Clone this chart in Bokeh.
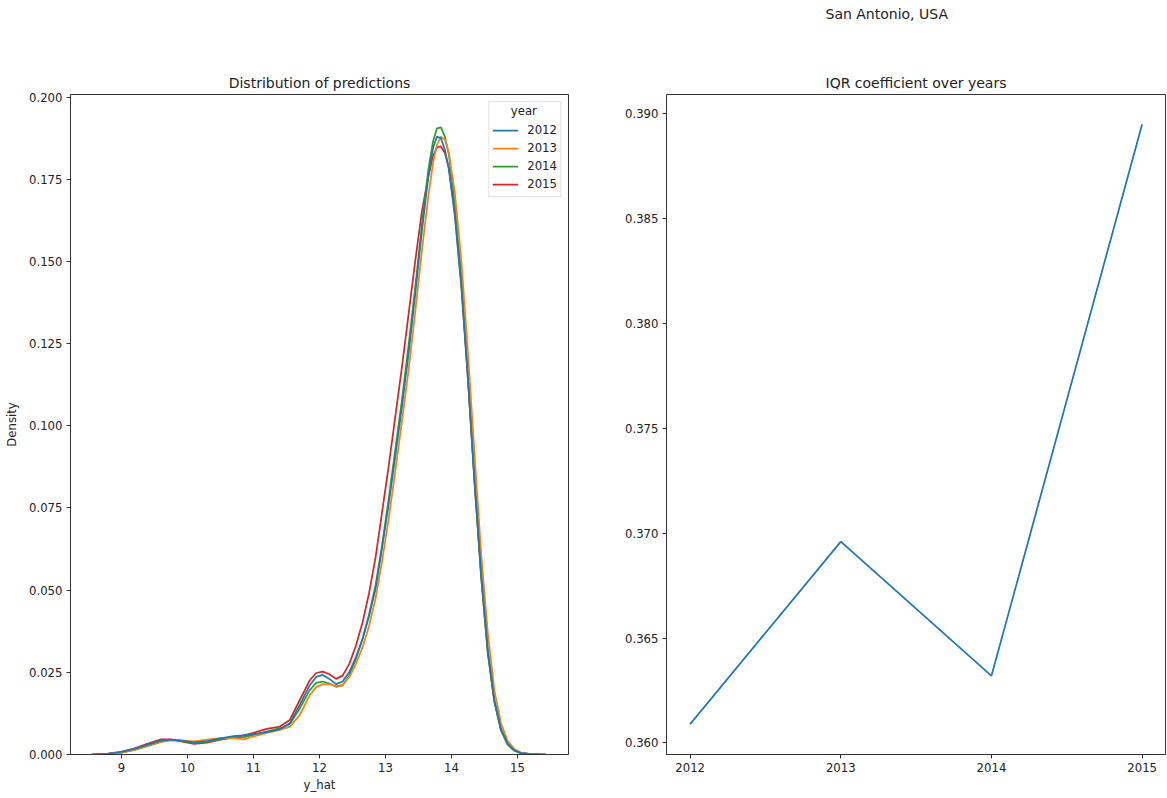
from bokeh.plotting import figure
from bokeh.layouts import row
from bokeh.models import (Range1d, FixedTicker, PrintfTickFormatter, Legend,
                          LegendItem, Label, Title)
from bokeh.embed import file_html
from bokeh.resources import INLINE

FONT = "DejaVu Sans"
TXT = "#222222"

# ---------------- data ----------------
years = ["2012", "2013", "2014", "2015"]
colors = ["#1f77b4", "#ff7f0e", "#2ca02c", "#d62728"]

y_hat = [8.55, 8.8, 9.0, 9.2, 9.4, 9.6, 9.75, 9.9, 10.1, 10.3, 10.5, 10.7, 10.85,
         11.0, 11.2, 11.4, 11.55, 11.7,
         11.85, 11.95, 12.05, 12.15, 12.25, 12.35, 12.45, 12.55, 12.65, 12.75,
         12.85, 12.95, 13.05, 13.15, 13.25, 13.35, 13.45, 13.55, 13.65,
         13.72, 13.78, 13.84, 13.9, 13.96,
         14.05, 14.15, 14.25, 14.35, 14.45, 14.55, 14.65, 14.75, 14.85, 14.95,
         15.05, 15.2, 15.43]

density_2012 = [0, 0.0003, 0.0008, 0.0018, 0.0030, 0.0042, 0.0045, 0.0042, 0.0037, 0.0041,
                0.0049, 0.0056, 0.0058, 0.0062, 0.0068, 0.0077, 0.0095, 0.0150,
                0.0210, 0.0236, 0.0242, 0.0230, 0.0214, 0.0222, 0.0250, 0.0295, 0.0350, 0.0420,
                0.0505, 0.0630, 0.0765, 0.0910, 0.1060, 0.1220, 0.1400, 0.1590, 0.1760,
                0.1845, 0.1880, 0.1875, 0.1840, 0.1780,
                0.1640, 0.1420, 0.1140, 0.0830, 0.0550, 0.0320, 0.0165, 0.0078, 0.0033, 0.0013,
                0.0005, 0.0001, 0]
density_2013 = [0, 0.0002, 0.0006, 0.0015, 0.0027, 0.0039, 0.0044, 0.0043, 0.0040, 0.0045,
                0.0050, 0.0050, 0.0046, 0.0055, 0.0066, 0.0075, 0.0085, 0.0120,
                0.0180, 0.0205, 0.0214, 0.0214, 0.0208, 0.0212, 0.0235, 0.0275, 0.0325, 0.0390,
                0.0475, 0.0590, 0.0720, 0.0865, 0.1015, 0.1170, 0.1345, 0.1530, 0.1700,
                0.1800, 0.1855, 0.1880, 0.1870, 0.1830,
                0.1710, 0.1500, 0.1220, 0.0910, 0.0610, 0.0370, 0.0195, 0.0095, 0.0042, 0.0017,
                0.0006, 0.0001, 0]
density_2014 = [0, 0.0002, 0.0006, 0.0014, 0.0026, 0.0038, 0.0044, 0.0042, 0.0035, 0.0039,
                0.0046, 0.0052, 0.0053, 0.0060, 0.0070, 0.0080, 0.0092, 0.0140,
                0.0195, 0.0218, 0.0222, 0.0216, 0.0206, 0.0210, 0.0240, 0.0290, 0.0350, 0.0425,
                0.0515, 0.0640, 0.0780, 0.0930, 0.1080, 0.1245, 0.1420, 0.1610, 0.1780,
                0.1865, 0.1905, 0.1908, 0.1880, 0.1825,
                0.1680, 0.1450, 0.1150, 0.0830, 0.0540, 0.0310, 0.0160, 0.0074, 0.0031, 0.0012,
                0.0004, 0.0001, 0]
density_2015 = [0, 0.0003, 0.0008, 0.0019, 0.0033, 0.0046, 0.0046, 0.0040, 0.0032, 0.0036,
                0.0045, 0.0052, 0.0058, 0.0066, 0.0078, 0.0085, 0.0105, 0.0165,
                0.0225, 0.0248, 0.0252, 0.0244, 0.0230, 0.0240, 0.0275, 0.0330, 0.0400, 0.0490,
                0.0600, 0.0740, 0.0880, 0.1030, 0.1180, 0.1340, 0.1500, 0.1650, 0.1760,
                0.1820, 0.1848, 0.1850, 0.1830, 0.1785,
                0.1650, 0.1430, 0.1140, 0.0825, 0.0540, 0.0310, 0.0160, 0.0074, 0.0031, 0.0012,
                0.0004, 0.0001, 0]
densities = [density_2012, density_2013, density_2014, density_2015]

kde_xticks = [9, 10, 11, 12, 13, 14, 15]
kde_yticks = [0.0, 0.025, 0.05, 0.075, 0.1, 0.125, 0.15, 0.175, 0.2]

iqr_years = [2012, 2013, 2014, 2015]
iqr_coef = [0.3609, 0.3696, 0.3632, 0.3895]
iqr_yticks = [0.360, 0.365, 0.370, 0.375, 0.380, 0.385, 0.390]


def style_title(t, align="center"):
    t.align = align
    t.text_font = FONT
    t.text_font_size = "14px"
    t.text_font_style = "normal"
    t.text_color = TXT


def style(p):
    p.background_fill_color = "white"
    p.border_fill_color = "white"
    p.outline_line_color = "#333333"
    p.outline_line_width = 1
    p.xgrid.grid_line_color = None
    p.ygrid.grid_line_color = None
    for ax in (p.xaxis, p.yaxis):
        ax.axis_line_color = "#333333"
        ax.major_tick_line_color = "#333333"
        ax.major_tick_out = 4
        ax.major_tick_in = 0
        ax.minor_tick_line_color = None
        ax.major_label_text_font = FONT
        ax.major_label_text_font_size = "11.7px"
        ax.major_label_text_color = TXT
        ax.major_label_standoff = 4
        ax.axis_label_text_font = FONT
        ax.axis_label_text_font_size = "11.7px"
        ax.axis_label_text_font_style = "normal"
        ax.axis_label_text_color = TXT


# ---------------- left: KDE ----------------
p1 = figure(width=618, height=798, x_range=Range1d(8.227, 15.773),
            y_range=Range1d(0.0, 0.2008), output_backend="svg",
            toolbar_location=None, title="Distribution of predictions",
            min_border_left=70, min_border_right=50,
            min_border_top=94, min_border_bottom=44)
style(p1)
style_title(p1.title)
p1.title.standoff = 8
p1.xaxis.ticker = FixedTicker(ticks=kde_xticks)
p1.yaxis.ticker = FixedTicker(ticks=kde_yticks)
p1.yaxis.formatter = PrintfTickFormatter(format="%.3f")
p1.xaxis.axis_label = "y_hat"
p1.yaxis.axis_label = "Density"
p1.xaxis.axis_label_standoff = 3
p1.yaxis.axis_label_standoff = 7

renderers = {}
for i in [3, 2, 1, 0]:
    renderers[i] = p1.line(y_hat, densities[i], line_color=colors[i], line_width=1.75)

legend = Legend(items=[LegendItem(label=years[i], renderers=[renderers[i]]) for i in range(4)],
                location="top_right", title=" ")
legend.margin = 7
legend.padding = 3
legend.spacing = 0
legend.label_height = 18
legend.glyph_height = 18
legend.glyph_width = 26
legend.label_standoff = 9
legend.title_standoff = 2
legend.label_text_font = FONT
legend.label_text_font_size = "11.7px"
legend.label_text_color = TXT
legend.title_text_font = FONT
legend.title_text_font_size = "11.7px"
legend.border_line_color = "#cccccc"
legend.background_fill_alpha = 0.0
p1.add_layout(legend)

p1.add_layout(Label(x=15.096, y=0.1958, text="year", text_align="center",
                    text_baseline="middle", text_font=FONT, text_font_size="11.7px",
                    text_color=TXT, level="overlay"))

# ---------------- right: IQR ----------------
p2 = figure(width=549, height=798, x_range=Range1d(2011.843, 2015.155),
            y_range=Range1d(0.35945, 0.39092), output_backend="svg",
            toolbar_location=None, title="San Antonio, USA",
            min_border_left=48, min_border_right=2,
            min_border_top=94, min_border_bottom=44)
style(p2)
style_title(p2.title, align="left")
p2.title.offset = 159
p2.title.standoff = 6
p2.add_layout(Title(text="IQR coefficient over years", align="center", text_font=FONT,
                    text_font_size="14px", text_font_style="normal", text_color=TXT,
                    standoff=8), "above")
# empty spacer between the subplot title and the figure title
p2.add_layout(Title(text=" ", text_font=FONT, text_font_size="28px", standoff=9), "above")
p2.xaxis.ticker = FixedTicker(ticks=iqr_years)
p2.xaxis.formatter = PrintfTickFormatter(format="%d")
p2.yaxis.ticker = FixedTicker(ticks=iqr_yticks)
p2.yaxis.formatter = PrintfTickFormatter(format="%.3f")
p2.line(iqr_years, iqr_coef, line_color=colors[0], line_width=1.75)

layout = row(p1, p2)
open("out.html", "w").write(file_html(layout, INLINE))
